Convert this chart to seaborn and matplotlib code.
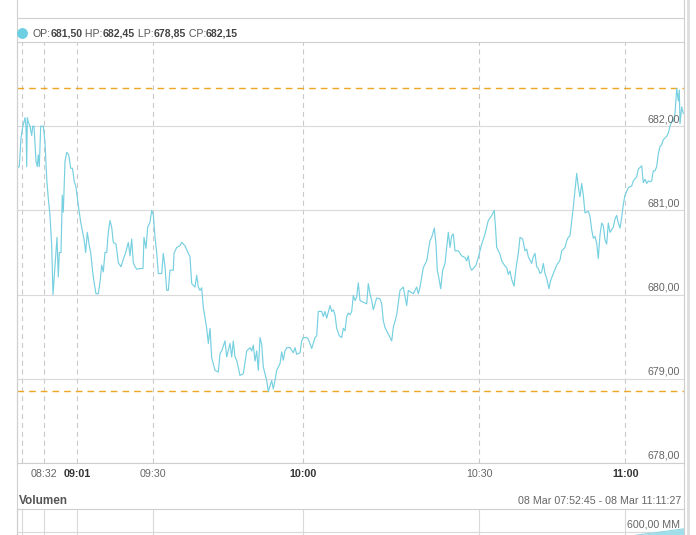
import numpy as np
import pandas as pd
import matplotlib
matplotlib.use("Agg")
import matplotlib.pyplot as plt
import matplotlib.transforms as mtransforms
from matplotlib.lines import Line2D
import seaborn as sns

# ---------------- data ----------------
trade_idx = [16.7, 19.3, 21.0, 22.7, 25.0, 26.0, 26.7, 27.3, 28.3, 30.0, 31.7, 32.7, 34.0, 36.0, 37.3, 38.3,
             39.3, 40.7, 43.3, 45.0, 46.7, 48.3, 50.0, 51.7, 53.0, 54.3, 55.7, 57.0, 58.3, 59.3, 61.0, 62.3,
             63.3, 65.0, 66.7, 68.7, 70.7, 72.5, 74.3, 76.0, 78.3, 80.7, 82.7, 84.0, 85.7, 87.3, 89.3, 90.7,
             92.7, 94.0, 96.0, 98.3, 100.0, 101.7, 103.3, 105.0, 106.7, 108.3, 110.0, 111.7, 113.3, 116.0,
             118.3, 121.0, 123.3, 125.7, 128.3, 130.0, 131.7, 133.3, 135.0, 137.0, 140.0, 143.0, 144.0, 146.0,
             147.7, 150.0, 151.7, 153.3, 155.0, 156.7, 158.3, 161.7, 163.3, 165.0, 166.7, 168.3, 170.0, 173.3,
             174.0, 176.7, 180.0, 181.7, 185.0, 188.3, 190.0, 191.7, 195.0, 196.7, 198.3, 200.0, 201.7, 203.3,
             206.7, 208.3, 210.0, 211.7, 215.0, 218.3, 220.0, 221.7, 225.0, 226.7, 230.0, 231.7, 233.3, 235.0,
             236.7, 240.0, 243.3, 246.7, 250.0, 251.7, 253.3, 255.0, 256.7, 258.3, 260.0, 261.7, 263.3, 266.7,
             268.3, 271.7, 273.3, 275.0, 276.7, 280.0, 281.7, 283.3, 285.0, 286.7, 290.0, 293.3, 295.0, 296.7,
             300.0, 301.7, 303.3, 306.7, 308.3, 311.7, 315.0, 316.7, 318.3, 321.7, 323.3, 325.0, 326.7, 330.0,
             331.7, 333.3, 335.0, 336.7, 339.3, 341.7, 343.3, 345.0, 346.7, 348.3, 350.0, 351.7, 353.3, 355.0,
             356.7, 358.3, 360.0, 363.3, 366.7, 368.3, 370.0, 371.7, 373.3, 376.7, 380.0, 381.7, 383.3, 385.0,
             386.7, 390.0, 391.7, 393.3, 396.7, 400.0, 403.3, 406.7, 408.3, 413.3, 416.7, 418.3, 420.0, 423.3,
             426.7, 430.0, 431.7, 434.3, 436.0, 437.3, 439.3, 440.7, 442.7, 445.0, 448.3, 450.0, 451.7, 453.3,
             455.0, 458.3, 461.7, 465.0, 466.7, 468.3, 470.0, 471.7, 473.3, 476.0, 478.3, 481.7, 485.0, 488.3,
             491.7, 494.3, 495.7, 496.7, 500.0, 501.7, 505.0, 506.7, 508.3, 510.0, 511.7, 514.0, 516.0, 518.3,
             520.0, 522.7, 525.0, 526.7, 528.3, 531.7, 533.3, 535.0, 536.7, 538.3, 540.0, 541.7, 543.3, 545.0,
             546.7, 549.0, 550.7, 553.3, 556.7, 560.0, 561.7, 563.3, 565.0, 566.7, 568.3, 570.0, 571.7, 573.3,
             575.0, 576.7, 578.3, 580.0, 581.7, 583.3, 585.0, 588.3, 590.0, 591.7, 593.3, 595.0, 596.7, 598.3,
             600.0, 601.7, 603.3, 605.0, 606.7, 608.3, 610.0, 611.7, 613.3, 615.0, 616.7, 618.3, 620.0, 621.7,
             623.3, 625.0, 628.3, 631.7, 633.3, 636.7, 638.3, 640.0, 641.7, 643.3, 645.0, 646.7, 648.3, 650.0,
             651.7, 653.3, 655.0, 656.7, 658.3, 660.0, 661.7, 663.3, 666.7, 668.3, 670.0, 671.7, 673.3, 675.0,
             676.7, 678.3, 679.3, 680.0, 681.7, 683.3]
price = [681.50, 681.52, 681.86, 681.99, 682.10, 681.99, 681.52, 682.10, 682.05, 682.00, 681.89, 682.00, 682.00,
         681.58, 681.52, 681.66, 681.52, 682.00, 682.00, 681.81, 681.38, 681.14, 680.94, 680.58, 680.00, 680.23,
         680.46, 680.68, 680.21, 680.50, 680.50, 681.18, 680.98, 681.58, 681.69, 681.66, 681.50, 681.50, 681.34,
         681.28, 681.06, 680.86, 680.74, 680.66, 680.50, 680.74, 680.58, 680.50, 680.27, 680.15, 680.01, 680.01,
         680.15, 680.35, 680.27, 680.50, 680.50, 680.74, 680.88, 680.80, 680.62, 680.60, 680.38, 680.33, 680.42,
         680.50, 680.62, 680.46, 680.66, 680.38, 680.33, 680.30, 680.31, 680.31, 680.68, 680.55, 680.80, 680.86,
         681.00, 680.95, 680.68, 680.50, 680.25, 680.25, 680.49, 680.33, 680.05, 680.05, 680.29, 680.29, 680.49,
         680.56, 680.58, 680.62, 680.58, 680.49, 680.45, 680.13, 680.09, 680.23, 680.09, 680.05, 680.08, 679.85,
         679.60, 679.42, 679.60, 679.25, 679.10, 679.08, 679.30, 679.33, 679.45, 679.26, 679.42, 679.26, 679.45,
         679.26, 679.22, 679.04, 679.06, 679.33, 679.37, 679.33, 679.40, 679.21, 679.33, 679.10, 679.49, 679.41,
         679.14, 678.98, 678.85, 678.98, 678.88, 678.98, 679.10, 679.18, 679.32, 679.22, 679.33, 679.37, 679.37,
         679.31, 679.37, 679.29, 679.31, 679.45, 679.49, 679.49, 679.47, 679.36, 679.49, 679.51, 679.80, 679.80,
         679.74, 679.80, 679.72, 679.87, 679.80, 679.82, 679.76, 679.60, 679.51, 679.49, 679.60, 679.57, 679.74,
         679.78, 679.76, 679.80, 679.99, 679.93, 679.97, 680.14, 679.93, 679.91, 679.89, 680.13, 680.01, 679.93,
         679.82, 679.96, 679.95, 679.89, 679.69, 679.61, 679.57, 679.49, 679.45, 679.61, 679.76, 680.05, 680.09,
         679.87, 680.05, 680.01, 680.09, 680.01, 680.09, 680.32, 680.40, 680.64, 680.68, 680.79, 680.60, 680.29,
         680.17, 680.07, 680.29, 680.37, 680.74, 680.56, 680.70, 680.72, 680.52, 680.52, 680.46, 680.44, 680.40,
         680.46, 680.33, 680.29, 680.31, 680.35, 680.44, 680.60, 680.72, 680.88, 680.94, 681.00, 680.76, 680.56,
         680.48, 680.40, 680.34, 680.32, 680.24, 680.28, 680.18, 680.10, 680.31, 680.49, 680.68, 680.66, 680.52,
         680.54, 680.45, 680.37, 680.45, 680.49, 680.33, 680.31, 680.25, 680.27, 680.37, 680.25, 680.19, 680.07,
         680.17, 680.25, 680.35, 680.41, 680.52, 680.54, 680.56, 680.64, 680.68, 680.70, 680.87, 681.04, 681.24,
         681.44, 681.28, 681.16, 681.32, 681.18, 680.97, 680.99, 680.93, 680.77, 680.67, 680.69, 680.61, 680.43,
         680.71, 680.85, 680.82, 680.65, 680.60, 680.85, 680.74, 680.77, 680.80, 680.90, 680.94, 680.85, 680.79,
         680.92, 681.07, 681.18, 681.27, 681.29, 681.35, 681.40, 681.49, 681.51, 681.53, 681.33, 681.37, 681.32,
         681.35, 681.34, 681.35, 681.47, 681.47, 681.52, 681.67, 681.76, 681.78, 681.84, 681.88, 681.92, 682.00,
         682.06, 682.06, 682.15, 682.45, 682.30, 682.43, 682.03, 682.23, 682.15]

price_ticks = [678, 679, 680, 681, 682]
price_tick_labels = ["678,00", "679,00", "680,00", "681,00", "682,00"]
time_tick_pos = [22.3, 44.3, 77.3, 153.3, 303.3, 479.2, 625.3]
time_tick_labels = ["", "08:32", "09:01", "09:30", "10:00", "10:30", "11:00"]
time_tick_bold = [False, False, True, False, True, False, True]
ohlc_names = ["OP", "HP", "LP", "CP"]
ohlc_values = ["681,50", "682,45", "678,85", "682,15"]
high_price = 682.45
low_price = 678.85
date_range_label = "08 Mar 07:52:45 - 08 Mar 11:11:27"
vol_idx = [16.7, 100, 200, 300, 400, 500, 600, 636.7, 660, 684.3]
vol_cum = [0, 40, 120, 220, 300, 400, 530, 579, 600, 622]
vol_tick = 600
vol_tick_label = "600,00 MM"

# ---------------- style ----------------
sns.set_style("white")
plt.rcParams["font.family"] = ["Liberation Sans", "DejaVu Sans"]

W, H = 696, 535
fig = plt.figure(figsize=(W / 100, H / 100), dpi=100)
fig.patch.set_facecolor("white")


def fx(px):
    return px / W


def fy(py):
    return 1 - py / H


L, R = 16.7, 684.3
GRID = "#d9d9d9"
BORDER = "#cfcfcf"
LINE = "#76d0e0"

# ---------------- main price panel ----------------
ax = fig.add_axes([fx(L), fy(463), (R - L) / W, (463 - 42) / H])
df = pd.DataFrame({"trade": trade_idx, "price": price})
sns.lineplot(data=df, x="trade", y="price", ax=ax, color=LINE, linewidth=0.85,
             estimator=None, sort=False, zorder=3)
ax.set_xlim(L, R)
ax.set_ylim(678, 683)
ax.set_xlabel("")
ax.set_ylabel("")

ax.set_yticks(price_ticks)
ax.yaxis.grid(True, color=GRID, lw=0.8, ls="-")
ax.tick_params(axis="y", length=0, labelleft=False)

ax.set_xticks(time_tick_pos)
ax.set_xticklabels(time_tick_labels)
ax.xaxis.grid(True, color="#c9c9c9", lw=0.8, ls=(0, (4.5, 3.5)))
ax.tick_params(axis="x", length=0, pad=4, labelsize=7.7, labelcolor="#666666")
for lbl, b in zip(ax.get_xticklabels(), time_tick_bold):
    if b:
        lbl.set_fontweight("bold")
        lbl.set_color("#333333")

for sp in ax.spines.values():
    sp.set_color(BORDER)
    sp.set_linewidth(0.8)

ax.axhline(high_price, color="#eda722", lw=1.0, ls=(0, (4.8, 3.6)), zorder=2)
ax.axhline(low_price, color="#eda722", lw=1.0, ls=(0, (4.8, 3.6)), zorder=2)

ytrans = mtransforms.blended_transform_factory(ax.transAxes, ax.transData)
ytrans = mtransforms.offset_copy(ytrans, fig=fig, x=-4, y=4, units="dots")
for v, s in zip(price_ticks, price_tick_labels):
    ax.text(1, v, s, transform=ytrans, ha="right", va="baseline",
            fontsize=7.7, color="#666666", zorder=4)

# ---------------- volume panel ----------------
vax = fig.add_axes([fx(L), fy(620), (R - L) / W, (620 - 509) / H])
vax.fill_between(vol_idx, vol_cum, color="#9fdfea", lw=0, zorder=2)
sns.lineplot(x=vol_idx, y=vol_cum, ax=vax, color="#8fd6e4", lw=0.8, estimator=None, sort=False)
vax.set_xlim(L, R)
vax.set_ylim(0, 757)
vax.set_yticks([vol_tick])
vax.set_xticks(time_tick_pos)
vax.grid(True, color=GRID, lw=0.8, ls="-")
vax.tick_params(length=0, labelleft=False, labelbottom=False)
for sp in vax.spines.values():
    sp.set_color(BORDER)
    sp.set_linewidth(0.8)
vtrans = mtransforms.blended_transform_factory(vax.transAxes, vax.transData)
vtrans = mtransforms.offset_copy(vtrans, fig=fig, x=-4, y=5, units="dots")
vax.text(1, vol_tick, vol_tick_label, transform=vtrans, ha="right", va="baseline",
         fontsize=7.7, color="#666666")

# ---------------- frame lines ----------------
for xp in (L, R):
    fig.add_artist(Line2D([fx(xp)] * 2, [0, 1], transform=fig.transFigure, color=BORDER, lw=0.8))
fig.add_artist(Line2D([fx(688)] * 2, [0, 1], transform=fig.transFigure, color="#dddddd", lw=2.0))
fig.add_artist(Line2D([fx(L), fx(R)], [fy(18)] * 2, transform=fig.transFigure, color=BORDER, lw=0.8))

# ---------------- texts ----------------
fig.text(fx(18.5), fy(504), "Volumen", fontsize=8.5, fontweight="bold", color="#555555", va="baseline")
fig.text(fx(681), fy(504), date_range_label, fontsize=7.7, color="#666666", va="baseline", ha="right")

# legend row
fig.add_artist(Line2D([fx(21.5)], [fy(32.5)], transform=fig.transFigure, marker="o",
                      markersize=6.8, color="#6dd0e2", lw=0))
renderer = fig.canvas.get_renderer()
xpos = 32.3
for i, (n, v) in enumerate(zip(ohlc_names, ohlc_values)):
    pieces = [((" " if i else "") + n + ":", "normal", "#555555"), (v, "bold", "#444444")]
    for txt, fw, col in pieces:
        t = fig.text(fx(xpos), fy(37), txt, fontsize=7.6, fontweight=fw, color=col, va="baseline")
        bb = t.get_window_extent(renderer=renderer)
        xpos += bb.width

fig.savefig("out.png", dpi=100)
